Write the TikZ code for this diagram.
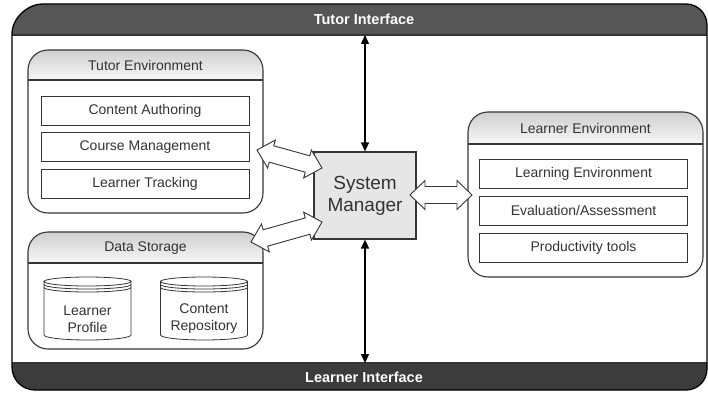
\documentclass[tikz,border=0pt]{standalone}
\usepackage{fontspec}
\setmainfont{Liberation Sans}
\usetikzlibrary{calc,arrows.meta}
\definecolor{barA}{HTML}{565656}
\definecolor{barB}{HTML}{3C3C3C}
\definecolor{ink}{HTML}{333333}
\definecolor{edge}{HTML}{353535}
\definecolor{smfill}{HTML}{E6E6E6}
\tikzset{
  envframe/.style={draw=edge, line width=1.1pt, rounded corners=20pt, minimum width=235pt, inner sep=0pt},
  envtitle/.style={font=\fontsize{14}{16}\selectfont, text=ink, inner sep=0pt},
  itembox/.style={draw=edge, line width=0.8pt, fill=white, minimum width=208pt, minimum height=29pt, inner sep=0pt, font=\fontsize{14}{16}\selectfont, text=ink},
  bartext/.style={font=\fontsize{14.5}{16}\selectfont\bfseries, text=white, inner sep=0pt},
  smbox/.style={draw=edge, line width=1.2pt, fill=smfill, minimum width=102pt, minimum height=87pt, inner sep=0pt, align=center, font=\fontsize{19}{22}\selectfont, text=ink},
  cylline/.style={draw=edge, line width=0.8pt},
  cyltext/.style={align=center, font=\fontsize{14}{17}\selectfont, text=ink, inner sep=0pt},
  fatarr/.style={draw=edge, fill=white, line width=0.9pt, line join=miter},
  vline/.style={draw=black, line width=1.3pt, {Triangle[length=9pt,width=8pt]}-{Triangle[length=9pt,width=8pt]}},
}
\newcommand\framepath{(12,363) -- (12,34) .. controls (12,17.4) and (28.6,4) .. (42,4) -- (686,4) .. controls (697.6,4) and (707,13.4) .. (707,25) -- (707,369) .. controls (707,380.6) and (697.6,390) .. (686,390) -- (35,390) .. controls (22.3,390) and (12,379.7) .. (12,367) -- cycle}
\newcommand\envshape[6]{% x1 y1 x2 y2 yh
  \begin{scope}
    \clip[rounded corners=20pt] (#1,#2) rectangle (#3,#4);
    \fill[white] (#1,#2) rectangle (#3,#4);
    \shade[top color=gray!38, bottom color=gray!6] (#1,#2) rectangle (#3,#5);
  \end{scope}
  \draw[draw=edge, line width=1.1pt] (#1,#5) -- (#3,#5);
  \draw[draw=edge, line width=1.1pt, rounded corners=20pt] (#1,#2) rectangle (#3,#4);
  \node[inner sep=0pt, minimum width=#3-#1, minimum height=#4-#2] (#6) at ({(#1+#3)/2},{(#2+#4)/2}) {};
}
\newcommand\dbcyl[3]{%
  \fill[white] (#2-43.5,281.5) -- (#2-43.5,335) arc[start angle=180, end angle=0, x radius=43.5, y radius=5] -- (#2+43.5,281.5) -- cycle;
  \draw[cylline] (#2,281.5) ellipse[x radius=43.5, y radius=4.5];
  \draw[cylline] (#2-43.5,284.5) arc[start angle=180, end angle=0, x radius=43.5, y radius=4.5];
  \draw[cylline] (#2-43.5,287.5) arc[start angle=180, end angle=0, x radius=43.5, y radius=4.5];
  \draw[cylline] (#2-43.5,281.5) -- (#2-43.5,335) arc[start angle=180, end angle=0, x radius=43.5, y radius=5] -- (#2+43.5,281.5);
  \node[cyltext] (#1) at (#2,319) {#3};
}
\newcommand\fatarrow[2]{%
  \path let \p1=($(#2)-(#1)$), \n1={atan2(\y1,\x1)}, \n2={veclen(\x1,\y1)} in \pgfextra{\xdef\fatang{\n1}\xdef\fatlen{\n2}};
  \begin{scope}[shift={(#1)}, rotate=\fatang]
    \draw[fatarr] (0,0) -- (15,14.5) -- (15,8.5) -- (\fatlen-15,8.5) -- (\fatlen-15,14.5) -- (\fatlen,0) -- (\fatlen-15,-14.5) -- (\fatlen-15,-8.5) -- (15,-8.5) -- (15,-14.5) -- cycle;
  \end{scope}}
\begin{document}
\begin{tikzpicture}[x=1pt, y=-1pt]
\useasboundingbox (0,0) rectangle (708,393);
\fill[white] (0,0) rectangle (708,393);
% outer frame with bars
\begin{scope}
  \clip \framepath;
  \fill[white] (0,0) rectangle (708,393);
  \fill[barA] (0,0) rectangle (708,35);
  \fill[barB] (0,363) rectangle (708,393);
\end{scope}
\draw[edge, line width=1.3pt] (12,35) -- (707,35);
\draw[edge, line width=1.3pt] (12,363) -- (707,363);
\draw[black, line width=1.3pt] \framepath;
\node[bartext] (tutorif) at (364,19.5) {Tutor Interface};
\node[bartext] (learnerif) at (364,377.5) {Learner Interface};
\coordinate (tibar) at (365,35);
\coordinate (libar) at (365,363);

% Tutor environment
\envshape{28}{50}{263}{213}{80}{tenv}
\node[envtitle] (ttitle) at (145.5,65.5) {Tutor Environment};
\node[itembox] (ca) at (145,110.5) {Content Authoring};
\node[itembox] (cm) at (145,147) {Course Management};
\node[itembox] (lt) at (145,184) {Learner Tracking};

% Data storage
\envshape{28}{232}{263}{349}{263}{dstore}
\node[envtitle] (dtitle) at (145.5,248) {Data Storage};
\dbcyl{lp}{87.5}{Learner\\Profile}
\dbcyl{cr}{204}{Content\\Repository}

% Learner environment
\envshape{468}{112}{703}{277}{144}{lenv}
\node[envtitle] (ltitle) at (585.5,128.5) {Learner Environment};
\node[itembox] (le) at (583.5,173.5) {Learning Environment};
\node[itembox] (ea) at (583.5,210.5) {Evaluation/Assessment};
\node[itembox] (pt) at (583.5,247.5) {Productivity tools};

% System manager
\node[smbox] (sm) at (365,195.5) {System\\Manager};

% vertical arrows
\draw[vline] (sm.north) -- (tibar);
\draw[vline] (sm.south) -- (libar);

% fat double arrows
\coordinate (a1s) at (257,150);
\coordinate (a1e) at (322,168);
\coordinate (a2s) at (251,242);
\coordinate (a2e) at (322,222);
\coordinate (a3s) at (410,195);
\coordinate (a3e) at (472,195);
\fatarrow{a1s}{a1e}
\fatarrow{a2s}{a2e}
\fatarrow{a3s}{a3e}
\end{tikzpicture}
\end{document}
